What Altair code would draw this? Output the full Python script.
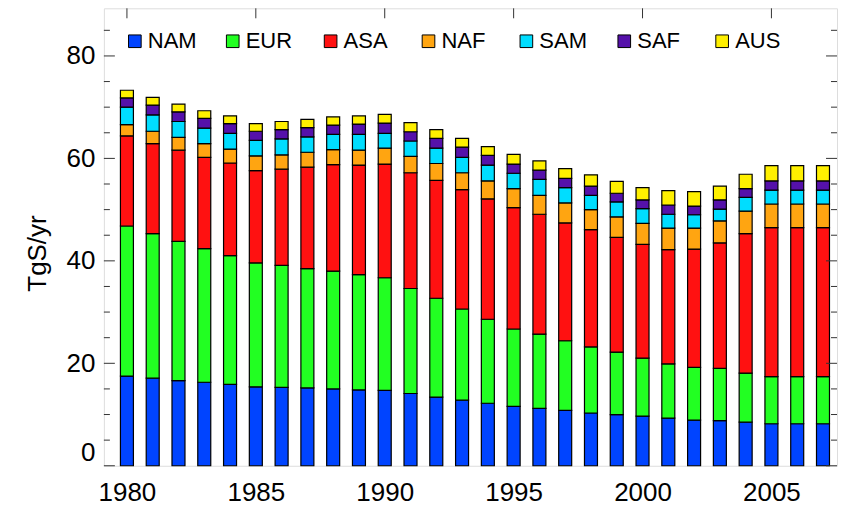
import altair as alt
import pandas as pd

years = list(range(1980, 2008))
regions = ["NAM", "EUR", "ASA", "NAF", "SAM", "SAF", "AUS"]
colors = ["#0044FF", "#22FF22", "#FF1111", "#FFA511", "#00DDFF", "#5511AA", "#FFF000"]

nam = [17.5, 17.1, 16.6, 16.3, 15.9, 15.4, 15.3, 15.2, 15.0, 14.8, 14.7, 14.1, 13.4, 12.8,
       12.2, 11.6, 11.2, 10.8, 10.3, 10.0, 9.7, 9.3, 8.9, 8.8, 8.5, 8.2, 8.2, 8.2]
eur = [29.3, 28.2, 27.2, 26.1, 25.1, 24.2, 23.8, 23.3, 23.0, 22.5, 22.0, 20.5, 19.3, 17.8,
       16.4, 15.1, 14.5, 13.6, 12.9, 12.2, 11.3, 10.6, 10.3, 10.2, 9.6, 9.2, 9.2, 9.2]
asa = [17.6, 17.6, 17.8, 17.8, 18.1, 18.0, 18.8, 19.8, 20.8, 21.4, 22.2, 22.6, 23.0, 23.3,
       23.5, 23.7, 23.4, 23.0, 22.9, 22.4, 22.2, 22.3, 23.1, 24.5, 27.2, 29.1, 29.1, 29.1]
naf = [2.2, 2.4, 2.5, 2.7, 2.7, 2.9, 2.8, 2.9, 2.9, 2.9, 3.1, 3.2, 3.3, 3.3,
       3.5, 3.7, 3.7, 3.9, 3.9, 4.0, 4.1, 4.2, 4.1, 4.3, 4.4, 4.6, 4.6, 4.6]
sam = [3.4, 3.2, 3.1, 3.0, 3.1, 3.0, 3.1, 3.0, 3.0, 3.1, 2.9, 3.0, 3.0, 3.0,
       3.1, 3.0, 3.1, 3.0, 2.8, 2.9, 2.9, 2.7, 2.6, 2.3, 2.7, 2.7, 2.7, 2.7]
saf = [1.8, 1.9, 1.9, 1.9, 1.9, 1.8, 1.8, 1.8, 1.8, 2.0, 2.0, 1.8, 1.9, 2.0,
       1.9, 1.8, 1.8, 1.8, 1.8, 1.7, 1.7, 1.8, 1.7, 1.8, 1.7, 1.8, 1.8, 1.8]
aus = [1.5, 1.5, 1.5, 1.5, 1.5, 1.5, 1.6, 1.6, 1.6, 1.6, 1.7, 1.8, 1.7, 1.7,
       1.7, 1.9, 1.8, 1.9, 2.2, 2.3, 2.4, 2.8, 2.8, 2.7, 2.8, 3.0, 3.0, 3.0]

series = [nam, eur, asa, naf, sam, saf, aus]

x_labels = [1980, 1985, 1990, 1995, 2000, 2005]
y_labels = [0, 20, 40, 60, 80]
y_minor = [5, 10, 15, 25, 30, 35, 45, 50, 55, 65, 70, 75, 85]

rows = []
for i, yr in enumerate(years):
    for k, name in enumerate(regions):
        rows.append({"year": yr, "region": name, "value": series[k][i], "ord": k})
df = pd.DataFrame(rows)

FONT = "Liberation Sans"
W, H = 734, 458
xscale = alt.Scale(domain=[1979.3, 2007.35], nice=False, zero=False)
yscale = alt.Scale(domain=[0, 89.3], nice=False, zero=True)

xaxis = alt.Axis(values=x_labels, format="d", ticks=False, domain=False, grid=False,
                 labelFontSize=26, labelPadding=14, labelColor="black",
                 labelFont=FONT, title=None, labelFlush=False)
yaxis = alt.Axis(values=y_labels, ticks=False, domain=False, grid=False,
                 labelFontSize=26, labelPadding=9, labelColor="black",
                 labelFont=FONT, labelFlush=True,
                 title="TgS/yr", titleFont=FONT, titleFontSize=26,
                 titleFontWeight="normal", titleColor="black",
                 titleAngle=270, titleX=-66, titleY=245,
                 titleBaseline="middle", titleAlign="center")

bars = alt.Chart(df).mark_bar(size=13, stroke="black", strokeWidth=1.2).encode(
    x=alt.X("year:Q", scale=xscale, axis=xaxis),
    y=alt.Y("value:Q", stack="zero", scale=yscale, axis=yaxis),
    color=alt.Color("region:N", scale=alt.Scale(domain=regions, range=colors),
                    legend=alt.Legend(orient="none", legendX=20, legendY=22,
                                      direction="horizontal", columns=7, gridAlign="all",
                                      title=None, symbolType="square", symbolSize=160,
                                      symbolStrokeColor="black", symbolStrokeWidth=1,
                                      symbolOpacity=1, labelFontSize=22, labelFont=FONT,
                                      labelColor="black", labelOffset=2, columnPadding=25)),
    order=alt.Order("ord:Q"),
)

ymaj = pd.DataFrame({"v": y_labels})
ymin = pd.DataFrame({"v": y_minor})
xmaj = pd.DataFrame({"year": x_labels})

def yticks(data, x0, x1):
    return alt.Chart(data).mark_rule(color="#333", strokeWidth=1).encode(
        y=alt.Y("v:Q", scale=yscale, axis=yaxis),
        x=alt.value(x0), x2=alt.value(x1))

top_ticks = alt.Chart(xmaj).mark_rule(color="#333", strokeWidth=1).encode(
    x=alt.X("year:Q", scale=xscale, axis=xaxis),
    y=alt.value(0), y2=alt.value(10))

chart = alt.layer(
    bars,
    yticks(ymaj, 0, 11), yticks(ymin, 0, 6),
    yticks(ymaj, W, W - 11), yticks(ymin, W, W - 6),
    top_ticks,
).properties(
    width=W, height=H,
    autosize=alt.AutoSizeParams(type="none"),
    padding={"left": 96, "top": 0, "right": 6, "bottom": 44},
).configure_view(stroke="#333", strokeWidth=1.2).configure(background="white")

chart.save("out.html", embed_options={"renderer": "svg", "actions": False})
